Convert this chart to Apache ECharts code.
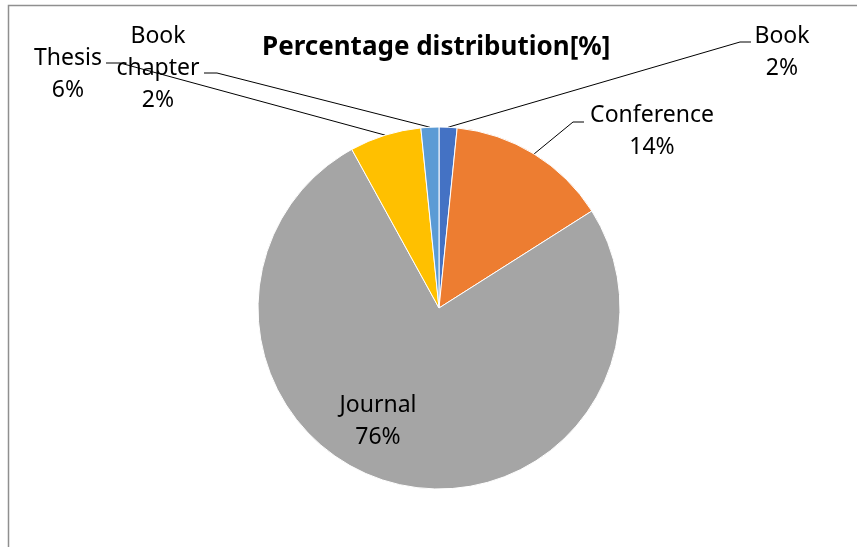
<!DOCTYPE html>
<html>
<head>
<meta charset="utf-8">
<script src="https://cdn.jsdelivr.net/npm/echarts@6/dist/echarts.min.js"></script>
<style>
html,body{margin:0;padding:0;background:#fff;}
#chart{width:857px;height:547px;}
</style>
</head>
<body>
<div id="chart"></div>
<script>
// ---- data ----
const categories = ["Book", "Conference", "Journal", "Thesis", "Book chapter"];
const values = [1.6, 14.4, 76.0, 6.4, 1.6];
const chartTitle = "Percentage distribution[%]";

// ---- styles / layout (not data) ----
const colors = ["#4472C4", "#ED7D31", "#A5A5A5", "#FFC000", "#5B9BD5"];
// label block centres and leader-line elbow/end points (layout only)
const labelLayouts = [
  { x: 782, y: 52, elbow: [740, 42], end: [751, 42] },
  { x: 652, y: 131, elbow: [573, 122], end: [584, 122] },
  { x: 378, y: 421, line: false },
  { x: 68, y: 74, elbow: [120, 63], end: [106, 63] },
  { x: 158, y: 68, elbow: [217, 73], end: [204, 73] }
];

const total = values.reduce((a, b) => a + b, 0);

const chart = echarts.init(document.getElementById('chart'), null, { renderer: 'canvas' });
chart.setOption({
  backgroundColor: '#fff',
  animation: false,
  title: {
    text: chartTitle,
    left: 257,
    top: 30,
    textStyle: { fontFamily: 'Noto Sans', fontWeight: 'bold', fontSize: 26, color: '#000' }
  },
  graphic: [{
    type: 'rect',
    shape: { x: 8.5, y: 5.5, width: 900, height: 600 },
    style: { fill: 'none', stroke: '#8f8f8f', lineWidth: 1.5 },
    silent: true
  }],
  series: [{
    type: 'pie',
    center: [439, 308],
    radius: 181,
    startAngle: 90,
    clockwise: true,
    avoidLabelOverlap: false,
    emphasis: { disabled: true },
    itemStyle: { borderColor: '#fff', borderWidth: 1 },
    label: {
      show: true,
      position: 'outside',
      fontFamily: 'Noto Sans',
      fontSize: 23,
      lineHeight: 32,
      color: '#000',
      align: 'center',
      formatter: p => p.name.replace(' ', '\n') + '\n' + Math.round(p.value / total * 100) + '%'
    },
    labelLine: { show: true, length: 10, length2: 10, lineStyle: { color: '#000', width: 1 } },
    labelLayout: function (params) {
      const L = labelLayouts[params.dataIndex];
      const out = { x: L.x, y: L.y, align: 'center', verticalAlign: 'middle' };
      if (L.line !== false && params.labelLinePoints) {
        out.labelLinePoints = [params.labelLinePoints[0], L.elbow, L.end];
      }
      return out;
    },
    data: categories.map((c, i) => ({
      name: c,
      value: values[i],
      itemStyle: { color: colors[i] },
      labelLine: labelLayouts[i].line === false ? { show: false } : undefined
    }))
  }]
});
</script>
</body>
</html>
